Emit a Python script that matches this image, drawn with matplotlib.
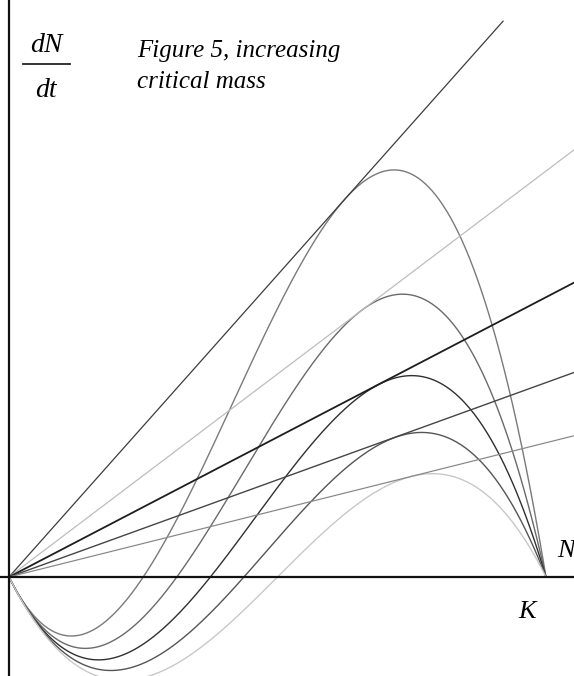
'''
    Allee-effect growth curves dN/dt for increasing critical mass,
    with the tangent lines from the origin.
'''
import numpy as np
import matplotlib.pyplot as plt

# growth model dN/dt = r N (N/A - 1)(1 - N/K)
growth_rate = 2.0
carrying_capacity = 1.0
critical_mass = [0.25, 0.3125, 0.375, 0.4375, 0.5]
curve_colors = ['#7a7a7a', '#6a6a6a', '#303030', '#555555', '#c8c8c8']

# straight lines from the origin (slope, where they stop)
line_slopes = [1.125, 0.756, 0.521, 0.362, 0.25]
line_ends = [0.92, 1.06, 1.06, 1.06, 1.06]
line_colors = ['#3c3c3c', '#bdbdbd', '#1e1e1e', '#454545', '#8a8a8a']
line_widths = [0.9, 0.9, 1.3, 1.0, 0.9]

W, H = 574, 676


def main():
    plt.rcParams['font.family'] = ['Liberation Serif', 'DejaVu Serif']
    fig = plt.figure(figsize=(W / 100, H / 100), dpi=100)
    ax = fig.add_axes([0, 0, 1, 1])
    ax.set_axis_off()

    # pixel origin (9, 577), K at pixel 546
    scale = 537.0
    ax.set_xlim(-9 / scale, (W - 9) / scale)
    ax.set_ylim(-(H - 577) / scale, 577 / scale)

    K = carrying_capacity
    N = np.linspace(0, K, 500)
    for A, col in zip(critical_mass, curve_colors):
        dN = growth_rate * N * (N / A - 1) * (1 - N / K)
        ax.plot(N, dN, color=col, lw=1.0)

    for s, end, col, lw in zip(line_slopes, line_ends, line_colors, line_widths):
        ax.plot([0, end], [0, s * end], color=col, lw=lw)

    # axes
    ax.axhline(0, color='#111111', lw=1.6)
    ax.axvline(0, color='#111111', lw=1.6)

    def px(x, y):
        return x / W, 1 - y / H

    tf = ax.transAxes
    ax.text(*px(46, 52), 'dN', transform=tf, fontsize=20, style='italic',
            ha='center', va='baseline')
    ax.plot([23 / W, 70 / W], [1 - 64 / H, 1 - 64 / H], transform=tf,
            color='#222222', lw=1.3)
    ax.text(*px(46, 97), 'dt', transform=tf, fontsize=20, style='italic',
            ha='center', va='baseline')

    ax.text(*px(137, 57), 'Figure 5, increasing', transform=tf, fontsize=18,
            style='italic', ha='left', va='baseline')
    ax.text(*px(137, 88), 'critical mass', transform=tf, fontsize=18,
            style='italic', ha='left', va='baseline')

    ax.text(*px(527, 618), 'K', transform=tf, fontsize=19, style='italic',
            ha='center', va='baseline')
    ax.text(*px(557, 557), 'N', transform=tf, fontsize=19, style='italic',
            ha='left', va='baseline')

    fig.savefig('out.png', dpi=100)


if __name__ == "__main__":
    main()
